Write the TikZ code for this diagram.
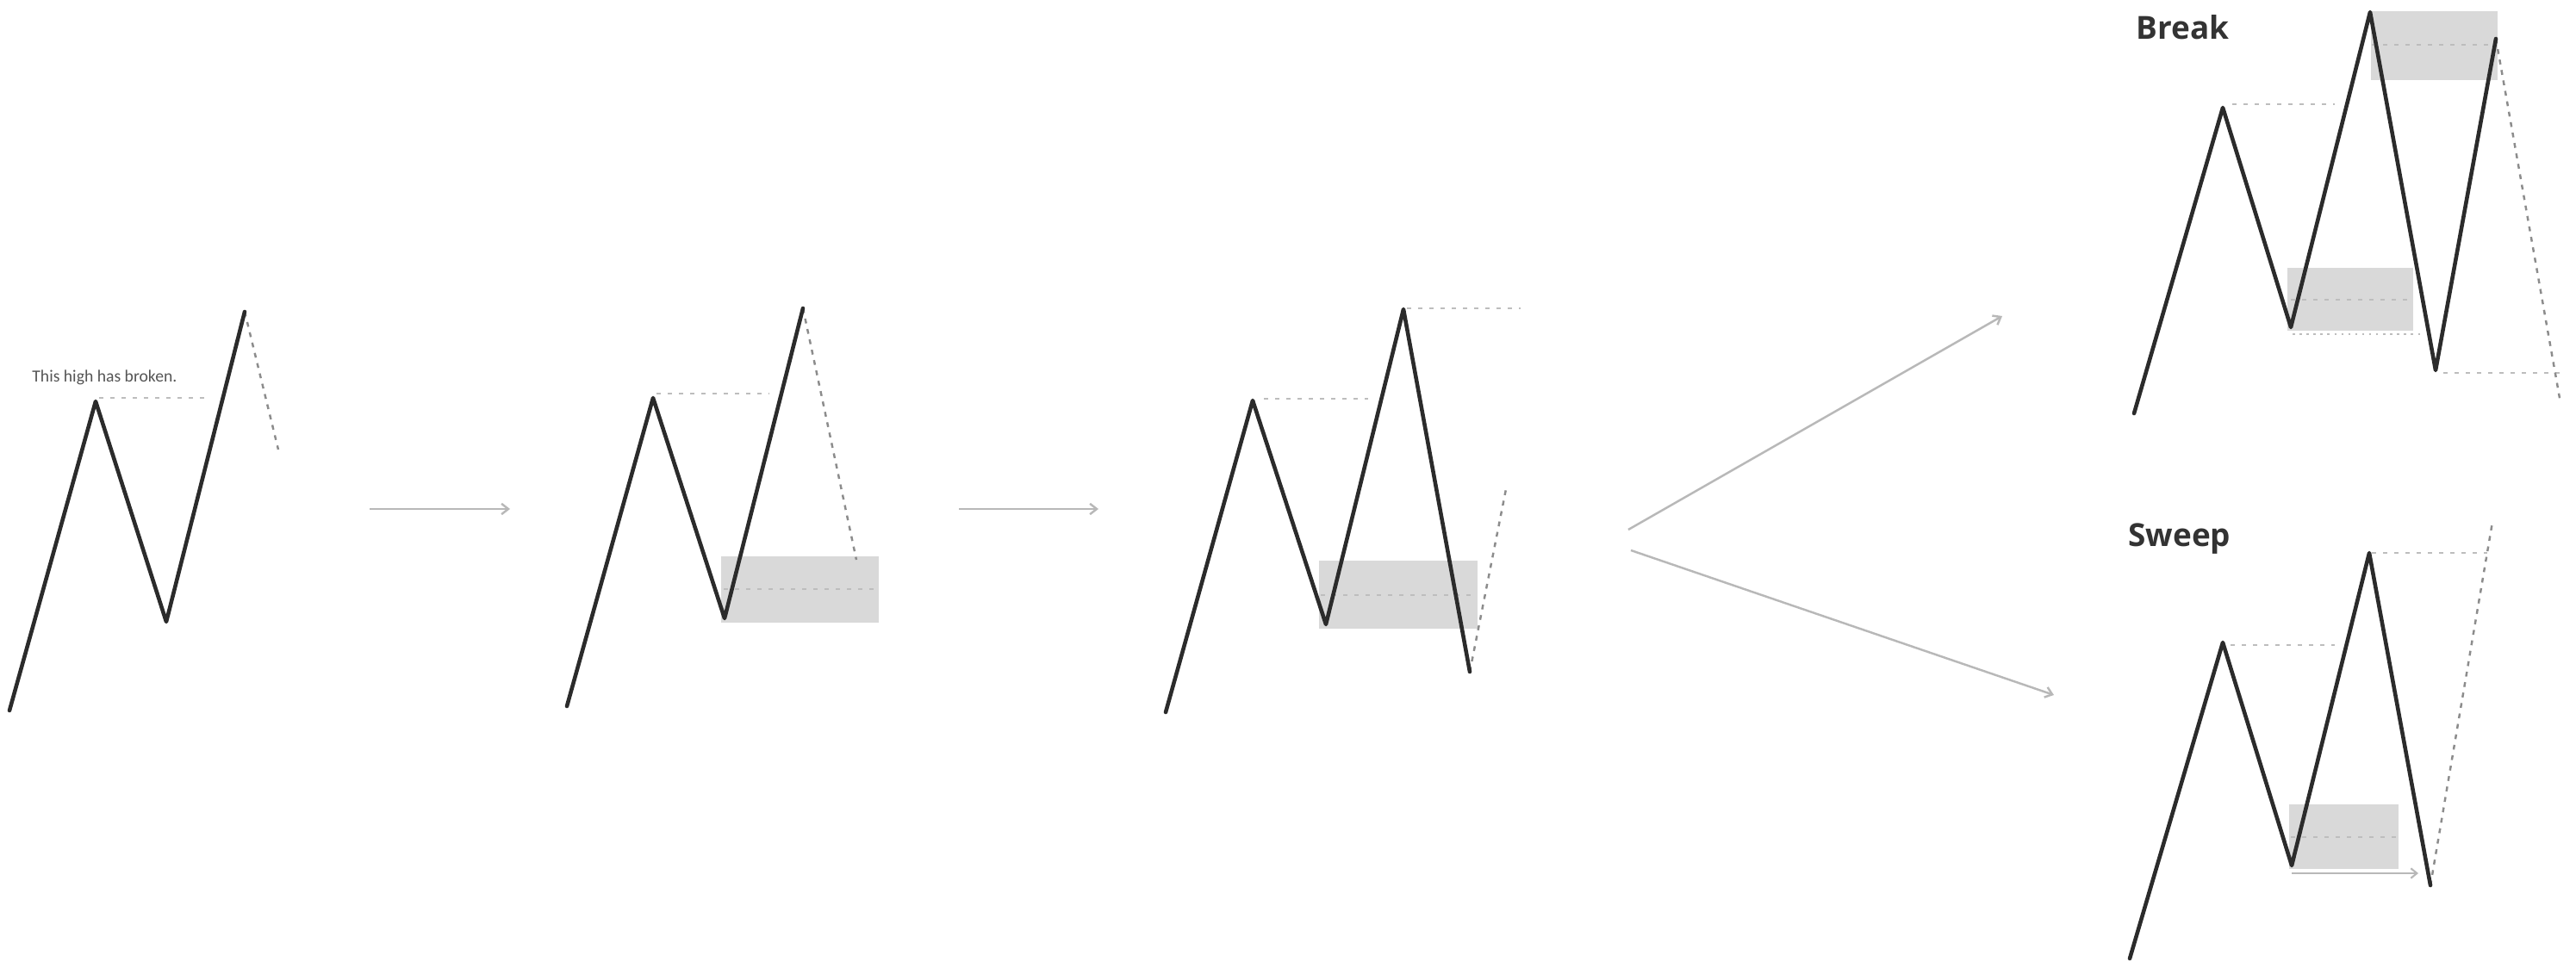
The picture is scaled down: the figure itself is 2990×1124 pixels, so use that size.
\documentclass[tikz,border=0pt]{standalone}
\usepackage{fontspec}
\setmainfont{Open Sans}
\newfontfamily\notefont{Carlito}
\usetikzlibrary{arrows.meta}
\definecolor{pline}{HTML}{2B2B2B}
\definecolor{zone}{HTML}{D9D9D9}
\definecolor{lvl}{HTML}{BDBDBD}
\definecolor{proj}{HTML}{8C8C8C}
\definecolor{flow}{HTML}{B8B8B8}
\definecolor{lbl}{HTML}{333333}
\definecolor{notec}{HTML}{555555}
\begin{document}
\begin{tikzpicture}[x=0.02cm,y=-0.02cm,
  price/.style={draw=pline,line width=2.6pt,line join=round,line cap=round},
  level/.style={draw=lvl,line width=1.2pt,dash pattern=on 2.8pt off 4.6pt},
  dotlevel/.style={draw=lvl,line width=1.2pt,dash pattern=on 1.4pt off 3.2pt},
  projline/.style={draw=proj,line width=1.4pt,dash pattern=on 3.2pt off 3.8pt},
  zonebox/.style={fill=zone,draw=none},
  flowarrow/.style={draw=flow,line width=1.4pt,-{Straight Barb[length=4.5pt,width=7pt]}},
  title/.style={font=\bfseries\fontsize{21}{25}\selectfont,text=lbl,inner sep=0pt,anchor=base west},
]
\useasboundingbox (0,0) rectangle (2990,1124);

% ---------- Panel 1 ----------
\coordinate (a1) at (11,825);
\coordinate (a2) at (111,466);
\coordinate (a3) at (193,722);
\coordinate (a4) at (284,362);
\coordinate (a5) at (323,522);
\coordinate (a2s) at (115,462);
\coordinate (a2e) at (242,462);
\draw[level] (a2s) -- (a2e);
\draw[projline] (a4) -- (a5);
\draw[price] (a1) -- (a2) -- (a3) -- (a4);
\node[font=\notefont\fontsize{11.2}{13}\selectfont,text=notec,inner sep=0pt,anchor=base west] (note) at (37,444) {This high has broken.};

% ---------- Panel 2 ----------
\coordinate (b1) at (658,820);
\coordinate (b2) at (758,462);
\coordinate (b3) at (841,718);
\coordinate (b4) at (932,358);
\coordinate (b5) at (994,650);
\fill[zonebox] (837,646) rectangle (1020,723);
\coordinate (b2s) at (762,457);
\coordinate (b2e) at (893,457);
\coordinate (bzs) at (840,684);
\coordinate (bze) at (1015,684);
\draw[level] (b2s) -- (b2e);
\draw[level] (bzs) -- (bze);
\draw[projline] (b4) -- (b5);
\draw[price] (b1) -- (b2) -- (b3) -- (b4);

% ---------- Panel 3 ----------
\coordinate (c1) at (1353,827);
\coordinate (c2) at (1454,465);
\coordinate (c3) at (1539,725);
\coordinate (c4) at (1629,359);
\coordinate (c5) at (1706,780);
\coordinate (c6) at (1748,568);
\fill[zonebox] (1531,651) rectangle (1715,730);
\coordinate (c2s) at (1467,463);
\coordinate (c2e) at (1588,463);
\coordinate (c4s) at (1633,358);
\coordinate (c4e) at (1765,358);
\coordinate (czs) at (1533,691);
\coordinate (cze) at (1708,691);
\draw[level] (c2s) -- (c2e);
\draw[level] (c4s) -- (c4e);
\draw[level] (czs) -- (cze);
\draw[projline] (c5) -- (c6);
\draw[price] (c1) -- (c2) -- (c3) -- (c4) -- (c5);

% ---------- Break panel ----------
\node[title] (breakt) at (2479,46) {Break};
\coordinate (d1) at (2477,480);
\coordinate (d2) at (2580,125);
\coordinate (d3) at (2659,380);
\coordinate (d4) at (2751,14);
\coordinate (d5) at (2827,430);
\coordinate (d6) at (2897,45);
\coordinate (d7) at (2972,468);
\fill[zonebox] (2752,13) rectangle (2899,93);
\fill[zonebox] (2655,311) rectangle (2801,384);
\coordinate (d2s) at (2591,121);
\coordinate (d2e) at (2710,121);
\coordinate (dts) at (2753,52);
\coordinate (dte) at (2896,52);
\coordinate (dls) at (2659,348);
\coordinate (dle) at (2800,348);
\coordinate (dds) at (2661,388);
\coordinate (dde) at (2810,388);
\coordinate (d5s) at (2836,433);
\coordinate (d5e) at (2971,433);
\draw[level] (d2s) -- (d2e);
\draw[level] (dts) -- (dte);
\draw[level] (dls) -- (dle);
\draw[dotlevel] (dds) -- (dde);
\draw[level] (d5s) -- (d5e);
\draw[projline] (d6) -- (d7);
\draw[price] (d1) -- (d2) -- (d3) -- (d4) -- (d5) -- (d6);

% ---------- Sweep panel ----------
\node[title] (sweept) at (2470,634) {Sweep};
\coordinate (e1) at (2472,1113);
\coordinate (e2) at (2580,746);
\coordinate (e3) at (2660,1005);
\coordinate (e4) at (2750,642);
\coordinate (e5) at (2821,1028);
\coordinate (e6) at (2893,606);
\fill[zonebox] (2657,934) rectangle (2784,1009);
\coordinate (e2s) at (2589,749);
\coordinate (e2e) at (2710,749);
\coordinate (e4s) at (2753,642);
\coordinate (e4e) at (2887,642);
\coordinate (ezs) at (2659,972);
\coordinate (eze) at (2782,972);
\coordinate (eas) at (2660,1014);
\coordinate (eae) at (2807,1014);
\draw[level] (e2s) -- (e2e);
\draw[level] (e4s) -- (e4e);
\draw[level] (ezs) -- (eze);
\draw[projline] (e5) -- (e6);
\draw[flow,line width=1.2pt,-{Straight Barb[length=4pt,width=6.5pt]}] (eas) -- (eae);
\draw[price] (e1) -- (e2) -- (e3) -- (e4) -- (e5);

% ---------- Flow arrows ----------
\coordinate (f1s) at (429,591);
\coordinate (f1e) at (592,591);
\coordinate (f2s) at (1113,591);
\coordinate (f2e) at (1275,591);
\coordinate (f3s) at (1890,615);
\coordinate (f3e) at (2324,367);
\coordinate (f4s) at (1893,639);
\coordinate (f4e) at (2384,807);
\draw[flowarrow] (f1s) -- (f1e);
\draw[flowarrow] (f2s) -- (f2e);
\draw[flowarrow] (f3s) -- (f3e);
\draw[flowarrow] (f4s) -- (f4e);
\end{tikzpicture}
\end{document}
